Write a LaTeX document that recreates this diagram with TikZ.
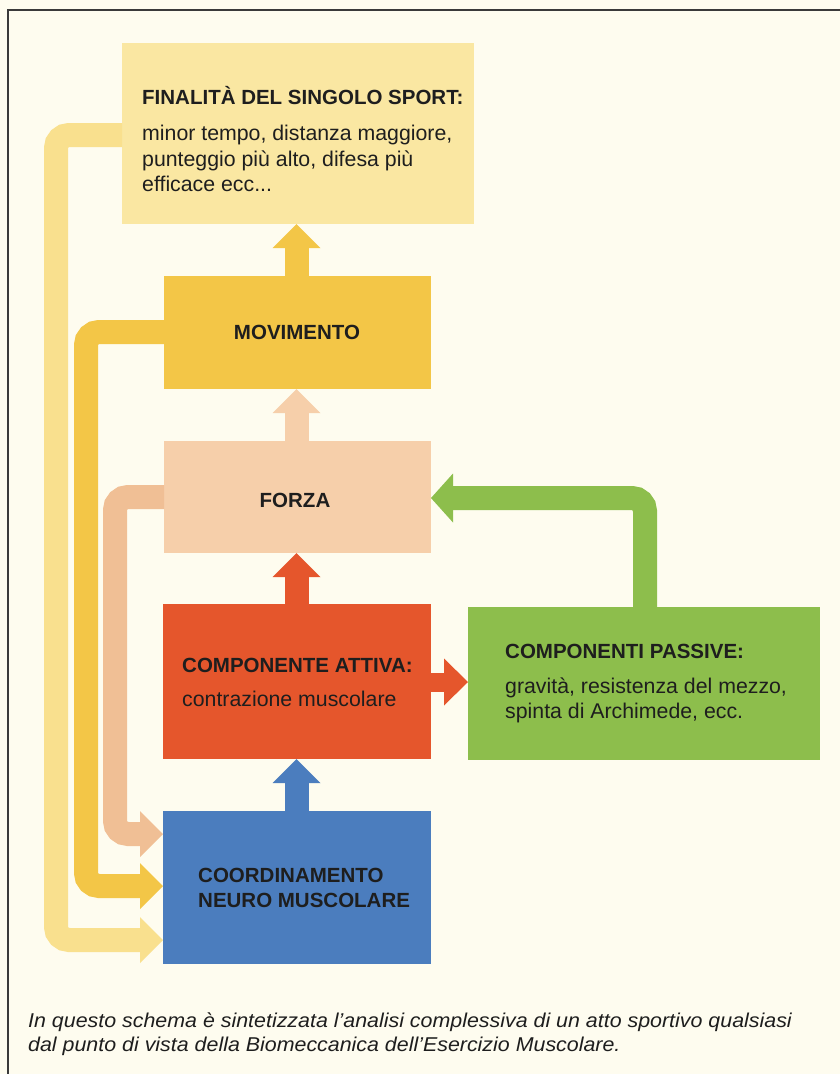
\documentclass[tikz,border=0pt]{standalone}
\usepackage{fontspec}
\setmainfont{Liberation Sans}
\newfontfamily\capfont[FakeStretch=1.07]{Liberation Sans}
\usetikzlibrary{arrows.meta}
\definecolor{bg}{HTML}{FEFCEF}
\definecolor{frame}{HTML}{3A3A3A}
\definecolor{txt}{HTML}{1E1E1E}
\definecolor{cfin}{HTML}{FAE7A2}
\definecolor{clight}{HTML}{F9E08E}
\definecolor{cmov}{HTML}{F3C647}
\definecolor{cforza}{HTML}{F6CFAA}
\definecolor{cpeach}{HTML}{F0BF95}
\definecolor{cred}{HTML}{E5562C}
\definecolor{cgreen}{HTML}{8DBE4C}
\definecolor{cblue}{HTML}{4B7DBE}
\begin{document}
\begin{tikzpicture}[x=1pt,y=-1pt,
  box/.style={rectangle, inner sep=0pt, outer sep=0pt, draw=none},
  boldtxt/.style={font=\fontsize{20.5}{25}\selectfont\bfseries, anchor=base west, inner sep=0pt, text=txt},
  regtxt/.style={font=\fontsize{21.3}{25}\selectfont, anchor=base west, inner sep=0pt, text=txt},
  captxt/.style={font=\capfont\fontsize{20}{24}\selectfont\itshape, anchor=base west, inner sep=0pt, text=txt},
  uparr/.style={line width=24pt, -{Triangle[width=48pt,length=24pt,line width=0pt]}},
  fb/.style={line width=24pt, rounded corners=13pt, -{Triangle[width=46pt,length=23pt,line width=0pt]}},
]
\useasboundingbox (0,0) rectangle (840,1074);
\fill[bg] (0,0) rectangle (840,1074);
\draw[line width=2pt, frame] (840,10) -- (8,10) -- (8,1074);

% boxes
\node[box, fill=cfin, minimum width=352pt, minimum height=181pt] (fin) at (298,133.5) {};
\node[box, fill=cmov, minimum width=267pt, minimum height=113pt] (mov) at (297.5,332.5) {};
\node[box, fill=cforza, minimum width=267pt, minimum height=112pt] (forza) at (297.5,497) {};
\node[box, fill=cred, minimum width=268pt, minimum height=155pt] (att) at (297,681.5) {};
\node[box, fill=cgreen, minimum width=352pt, minimum height=153pt] (pas) at (644,683.5) {};
\node[box, fill=cblue, minimum width=268pt, minimum height=153pt] (coord) at (297,887.5) {};

% texts
\node[boldtxt] (fin1) at (142,104) {FINALITÀ DEL SINGOLO SPORT:};
\node[regtxt] (fin2) at (142,140) {minor tempo, distanza maggiore,};
\node[regtxt] (fin3) at (142,166) {punteggio più alto, difesa più};
\node[regtxt] (fin4) at (142,191) {efficace ecc...};
\node[boldtxt, anchor=base] (movt) at (297,339) {MOVIMENTO};
\node[boldtxt, anchor=base] (forzat) at (295,507) {FORZA};
\node[boldtxt] (att1) at (182,672) {COMPONENTE ATTIVA:};
\node[regtxt] (att2) at (182,706) {contrazione muscolare};
\node[boldtxt] (pas1) at (505,658) {COMPONENTI PASSIVE:};
\node[regtxt] (pas2) at (505,693) {gravità, resistenza del mezzo,};
\node[regtxt] (pas3) at (505,718) {spinta di Archimede, ecc.};
\node[boldtxt] (coord1) at (198,882) {COORDINAMENTO};
\node[boldtxt] (coord2) at (198,907) {NEURO MUSCOLARE};
\node[captxt] (cap1) at (28,1027) {In questo schema è sintetizzata l’analisi complessiva di un atto sportivo qualsiasi};
\node[captxt] (cap2) at (28,1051) {dal punto di vista della Biomeccanica dell’Esercizio Muscolare.};

% upward arrows
\coordinate (ux) at (296.5,0);
\draw[uparr, cmov] (ux |- mov.north) -- (ux |- fin.south);
\draw[uparr, cforza] (ux |- forza.north) -- (ux |- mov.south);
\draw[uparr, cred] (ux |- att.north) -- (ux |- forza.south);
\draw[uparr, cblue] (ux |- coord.north) -- (ux |- att.south);

% red to passive
\coordinate (ry) at (0,682);
\draw[line width=19pt, cred, -{Triangle[width=47pt,length=24pt,line width=0pt]}] (att.east |- ry) -- (pas.west |- ry);

% green feedback to forza
\coordinate (gc) at (645,498);
\draw[fb, cgreen, -{Triangle[width=49pt,length=22pt,line width=0pt]}] (gc |- pas.north) -- (gc) -- (forza.east |- gc);

% left feedback arrows
\coordinate (lyt) at (56,135);
\coordinate (lyb) at (56,940);
\draw[fb, clight] (fin.west |- lyt) -- (lyt) -- (lyb) -- (coord.west |- lyb);
\coordinate (myt) at (86,332);
\coordinate (myb) at (86,886);
\draw[fb, cmov] (mov.west |- myt) -- (myt) -- (myb) -- (coord.west |- myb);
\coordinate (pyt) at (115,497);
\coordinate (pyb) at (115,834);
\draw[fb, cpeach] (forza.west |- pyt) -- (pyt) -- (pyb) -- (coord.west |- pyb);
\end{tikzpicture}
\end{document}
